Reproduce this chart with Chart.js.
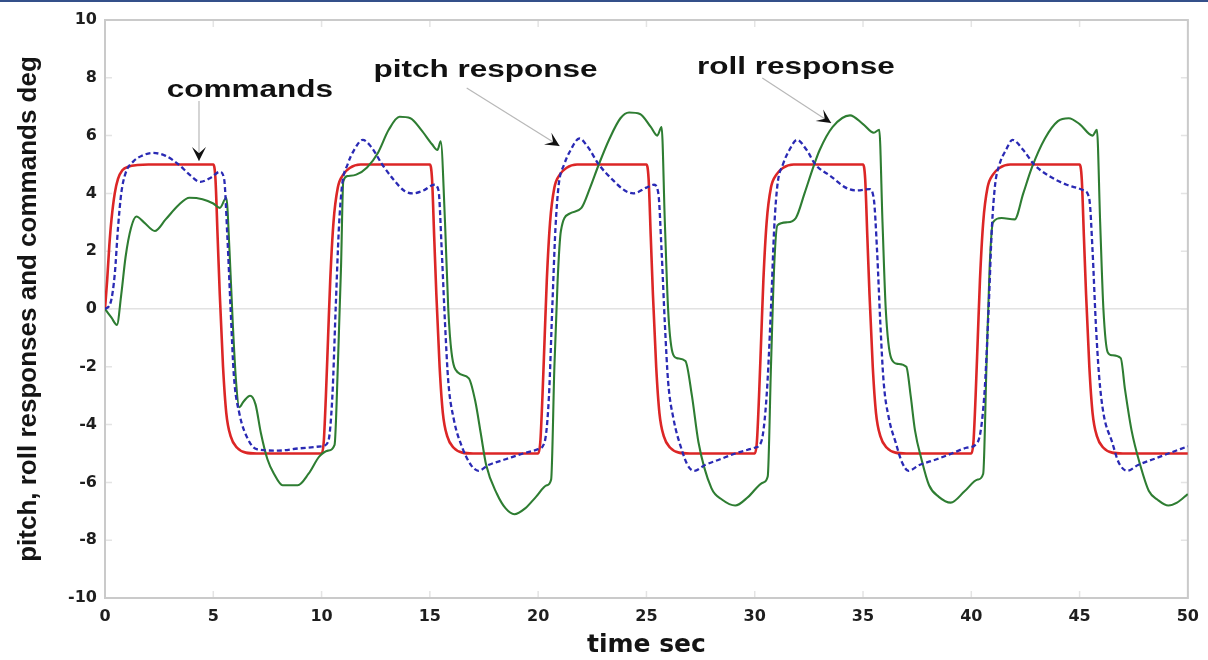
<!DOCTYPE html>
<html>
<head>
<meta charset="utf-8">
<script src="https://cdn.jsdelivr.net/npm/chart.js@4.4.1/dist/chart.umd.min.js"></script>
<style>
html,body{margin:0;padding:0;background:#fff;}
#wrap{width:1208px;height:660px;position:relative;}
</style>
</head>
<body>
<div id="wrap"><canvas id="c" width="1208" height="660"></canvas></div>
<script>
// ---------- data ----------
const seriesNames = ["commands", "pitch response", "roll response"];

const cmdT = [
  0, 0.1, 0.2, 0.3, 0.45, 0.6, 0.8, 1.1, 1.5, 2.0,
  5.0, 5.1, 5.2, 5.3, 5.45, 5.6, 5.8, 6.1, 6.5, 7.0,
  10.0, 10.1, 10.2, 10.3, 10.4, 10.55, 10.75, 11.0, 11.3, 11.8,
  15.0, 15.1, 15.2, 15.3, 15.45, 15.6, 15.8, 16.1, 16.5, 17.0,
  20.0, 20.1, 20.2, 20.3, 20.4, 20.55, 20.75, 21.0, 21.3, 21.8,
  25.0, 25.1, 25.2, 25.3, 25.45, 25.6, 25.8, 26.1, 26.5, 27.0,
  30.0, 30.1, 30.2, 30.3, 30.4, 30.55, 30.75, 31.0, 31.3, 31.8,
  35.0, 35.1, 35.2, 35.3, 35.45, 35.6, 35.8, 36.1, 36.5, 37.0,
  40.0, 40.1, 40.2, 40.3, 40.4, 40.55, 40.75, 41.0, 41.3, 41.8,
  45.0, 45.1, 45.2, 45.3, 45.45, 45.6, 45.8, 46.1, 46.5, 47.0,
  50.0
];
const cmdV = [
  0, 1.0, 2.2, 3.1, 4.0, 4.5, 4.8, 4.93, 4.98, 5,
  5, 4.5, 2.5, 0.5, -2, -3.6, -4.4, -4.8, -4.97, -5,
  -5, -4.6, -3, -1, 1, 3, 4.2, 4.65, 4.88, 5,
  5, 4.5, 2.5, 0.5, -2, -3.6, -4.4, -4.8, -4.97, -5,
  -5, -4.6, -3, -1, 1, 3, 4.2, 4.65, 4.88, 5,
  5, 4.5, 2.5, 0.5, -2, -3.6, -4.4, -4.8, -4.97, -5,
  -5, -4.6, -3, -1, 1, 3, 4.2, 4.65, 4.88, 5,
  5, 4.5, 2.5, 0.5, -2, -3.6, -4.4, -4.8, -4.97, -5,
  -5, -4.6, -3, -1, 1, 3, 4.2, 4.65, 4.88, 5,
  5, 4.5, 2.5, 0.5, -2, -3.6, -4.4, -4.8, -4.97, -5,
  -5
];

const pitchT = [
  0, 0.25, 0.45, 0.6, 0.75, 0.95, 1.3, 1.7, 2.2, 2.8, 3.4, 3.9, 4.4, 4.9, 5.3, 5.5, 5.65, 5.8, 5.95, 6.2, 6.6, 7.0, 8.0, 9.0,
  10.0, 10.3, 10.5, 10.65, 10.8, 10.95, 11.2, 11.5, 11.9, 12.3, 12.8, 13.3, 13.8, 14.2, 14.7, 15.2, 15.4, 15.55, 15.7, 15.85, 16.1, 16.5, 16.9, 17.25, 17.7, 18.5, 19.3,
  20.0, 20.3, 20.5, 20.65, 20.8, 20.95, 21.2, 21.5, 21.9, 22.3, 22.8, 23.4, 24.0, 24.4, 25.0, 25.35, 25.55, 25.7, 25.85, 26.0, 26.25, 26.6, 26.9, 27.2, 27.7, 28.4, 29.1,
  30.0, 30.3, 30.55, 30.75, 30.9, 31.05, 31.3, 31.6, 31.95, 32.4, 32.8, 33.5, 34.2, 34.7, 35.3, 35.5, 35.65, 35.8, 35.95, 36.2, 36.5, 36.8, 37.1, 37.6, 38.4, 39.1, 39.8,
  40.3, 40.6, 40.8, 40.95, 41.1, 41.3, 41.6, 41.9, 42.4, 42.9, 43.6, 44.4, 45.2, 45.45, 45.6, 45.75, 45.9, 46.1, 46.5, 46.8, 47.2, 47.7, 48.4, 49.1, 50.0
];
const pitchV = [
  0, 0.2, 1.2, 2.8, 4.0, 4.7, 5.1, 5.3, 5.4, 5.3, 5.0, 4.65, 4.4, 4.55, 4.75, 4.5, 2.5, 0, -2.3, -3.6, -4.5, -4.85, -4.9, -4.82,
  -4.75, -4.6, -3, 0, 2.8, 4.3, 5.0, 5.5, 5.85, 5.6, 5.0, 4.5, 4.1, 4.0, 4.1, 4.3, 4.1, 2, -0.5, -2.5, -3.8, -4.8, -5.4, -5.6, -5.4, -5.2, -5.0,
  -4.85, -4.6, -3, 0, 2.8, 4.3, 5.0, 5.5, 5.9, 5.6, 5.0, 4.5, 4.1, 4.0, 4.2, 4.3, 4.0, 2, -0.5, -2.5, -3.8, -4.8, -5.4, -5.6, -5.4, -5.2, -5.0,
  -4.8, -4.6, -3, 0, 2.8, 4.3, 5.0, 5.5, 5.85, 5.5, 5.0, 4.6, 4.2, 4.1, 4.15, 3.8, 2, -0.5, -2.5, -3.8, -4.6, -5.3, -5.6, -5.4, -5.2, -5.0, -4.8,
  -4.6, -3, 0, 2.8, 4.3, 5.0, 5.5, 5.85, 5.5, 5.0, 4.6, 4.3, 4.1, 3.8, 2, -0.5, -2.3, -3.6, -4.6, -5.3, -5.6, -5.4, -5.2, -5.0, -4.75
];

const rollT = [
  0, 0.3, 0.55, 0.75, 0.95, 1.2, 1.45, 1.8, 2.3, 2.8, 3.4, 3.9, 4.5, 5.0, 5.3, 5.6, 5.75, 5.9, 6.05, 6.2, 6.4, 6.7, 6.95, 7.2, 7.5, 7.8, 8.2, 8.9, 9.4, 9.9,
  10.3, 10.6, 10.75, 10.9, 11.0, 11.2, 11.6, 12.1, 12.6, 13.1, 13.6, 14.1, 14.6, 15.1, 15.35, 15.5, 15.7, 15.85, 16.0, 16.3, 16.8, 17.1, 17.35, 17.6, 18.1, 18.5, 18.9, 19.4, 19.9,
  20.4, 20.6, 20.75, 20.9, 21.05, 21.45, 22.0, 22.4, 22.8, 23.3, 23.8, 24.2, 24.7, 25.2, 25.5, 25.7, 25.85, 26.0, 26.2, 26.4, 26.8, 27.1, 27.4, 28.0, 28.5, 29.1, 29.7,
  30.4, 30.6, 30.75, 30.9, 31.05, 31.5, 31.9, 32.3, 32.7, 33.0, 33.6, 34.4, 35.0, 35.5, 35.75, 35.9, 36.05, 36.3, 36.6, 37.0, 37.2, 37.4, 37.7, 38.05, 38.5, 39.05, 39.7,
  40.3, 40.55, 40.7, 40.85, 41.0, 41.4, 42.0, 42.4, 42.8, 43.4, 44.0, 44.5, 45.0, 45.6, 45.8, 45.95, 46.1, 46.3, 46.5, 46.9, 47.1, 47.4, 47.8, 48.2, 48.6, 49.1, 49.5, 50.0
];
const rollV = [
  0, -0.3, -0.55, 0.5, 1.8, 2.8, 3.2, 3.0, 2.7, 3.1, 3.6, 3.85, 3.8, 3.65, 3.5, 3.85, 2, -0.5, -2.5, -3.4, -3.2, -3.0, -3.3, -4.3, -5.2, -5.7, -6.1, -6.1, -5.7, -5.1,
  -4.9, -4.7, -2, 1.5, 4.4, 4.6, 4.65, 4.9, 5.4, 6.2, 6.65, 6.6, 6.2, 5.7, 5.5, 5.8, 3, 0, -1.5, -2.2, -2.4, -3.2, -4.3, -5.4, -6.4, -6.9, -7.1, -6.9, -6.5,
  -6.1, -5.9, -2, 1.0, 2.7, 3.3, 3.5, 4.2, 5.0, 5.9, 6.6, 6.8, 6.75, 6.3, 6.0, 6.3, 3, 0, -1.5, -1.7, -1.8, -3.0, -4.6, -6.2, -6.6, -6.8, -6.5,
  -6.0, -5.8, -2, 1.5, 2.9, 3.0, 3.15, 4.0, 4.9, 5.5, 6.3, 6.7, 6.4, 6.1, 6.2, 3, 0, -1.7, -1.9, -2.0, -3.0, -4.2, -5.2, -6.1, -6.5, -6.7, -6.3,
  -5.9, -5.7, -2, 1.5, 3.0, 3.15, 3.1, 4.0, 4.9, 5.9, 6.5, 6.6, 6.4, 6.0, 6.2, 3, 0, -1.5, -1.6, -1.7, -2.8, -4.2, -5.4, -6.3, -6.6, -6.8, -6.7, -6.4
];

const xTickStep = 5;
const yTickStep = 2;

// ---------- helpers ----------
const toPts = (ts, vs) => ts.map((t, i) => ({x: t, y: vs[i]}));

function arrowHead(ctx, x0, y0, x1, y1, len, half) {
  const ang = Math.atan2(y1 - y0, x1 - x0);
  ctx.save();
  ctx.translate(x1, y1);
  ctx.rotate(ang);
  ctx.beginPath();
  ctx.moveTo(0, 0);
  ctx.lineTo(-len, -half);
  ctx.lineTo(-len * 0.55, 0);
  ctx.lineTo(-len, half);
  ctx.closePath();
  ctx.fill();
  ctx.restore();
}

const deco = {
  id: 'deco',
  beforeDraw(chart) {
    const c = chart.ctx;
    c.save();
    c.fillStyle = '#ffffff';
    c.fillRect(0, 0, chart.width, chart.height);
    c.fillStyle = '#34508a';
    c.fillRect(0, 0, chart.width, 2);
    c.restore();
  },
  beforeDatasetsDraw(chart) {
    const {ctx, chartArea: a, scales: {x, y}} = chart;
    ctx.save();
    ctx.strokeStyle = '#e4e4e4';
    ctx.lineWidth = 1.5;
    x.ticks.forEach((t, i) => {
      const px = x.getPixelForTick(i);
      ctx.beginPath();
      ctx.moveTo(px, a.bottom); ctx.lineTo(px, a.bottom - 7);
      ctx.moveTo(px, a.top); ctx.lineTo(px, a.top + 7);
      ctx.stroke();
    });
    y.ticks.forEach((t, i) => {
      const py = y.getPixelForTick(i);
      ctx.beginPath();
      ctx.moveTo(a.left, py); ctx.lineTo(a.left + 7, py);
      ctx.moveTo(a.right, py); ctx.lineTo(a.right - 7, py);
      ctx.stroke();
    });
    ctx.strokeStyle = '#cacaca';
    ctx.lineWidth = 2;
    ctx.strokeRect(a.left, a.top, a.right - a.left, a.bottom - a.top);
    ctx.restore();
  },
  afterDatasetsDraw(chart, args, opts) {
    const {ctx, scales: {x, y}} = chart;
    ctx.save();
    (opts.notes || []).forEach(n => {
      const x0 = x.getPixelForValue(n.from[0]), y0 = y.getPixelForValue(n.from[1]);
      const x1 = x.getPixelForValue(n.to[0]), y1 = y.getPixelForValue(n.to[1]);
      ctx.strokeStyle = '#b8b8b8';
      ctx.lineWidth = 1.2;
      ctx.beginPath(); ctx.moveTo(x0, y0); ctx.lineTo(x1, y1); ctx.stroke();
      ctx.fillStyle = '#111';
      arrowHead(ctx, x0, y0, x1, y1, 14, 7);
      const tx = x.getPixelForValue(n.at[0]), ty = y.getPixelForValue(n.at[1]);
      ctx.save();
      ctx.translate(tx, ty);
      ctx.scale(1.37, 1);
      ctx.font = 'bold 23px "Liberation Sans", Arial, sans-serif';
      ctx.textAlign = 'center';
      ctx.textBaseline = 'middle';
      ctx.fillStyle = '#111';
      ctx.fillText(n.text, 0, 0);
      ctx.restore();
    });
    ctx.restore();
  }
};

const tickFont = {family: '"DejaVu Sans", sans-serif', size: 16, weight: 'bold'};

new Chart(document.getElementById('c'), {
  type: 'line',
  data: {
    datasets: [
      {
        label: seriesNames[0],
        data: toPts(cmdT, cmdV),
        borderColor: '#dc2626',
        borderWidth: 2.6,
        pointRadius: 0,
        cubicInterpolationMode: 'monotone',
        order: 3
      },
      {
        label: seriesNames[2],
        data: toPts(rollT, rollV),
        borderColor: '#2e7d32',
        borderWidth: 2.1,
        pointRadius: 0,
        cubicInterpolationMode: 'monotone',
        order: 2
      },
      {
        label: seriesNames[1],
        data: toPts(pitchT, pitchV),
        borderColor: '#2a2ab4',
        borderWidth: 2.3,
        borderDash: [5, 3],
        pointRadius: 0,
        cubicInterpolationMode: 'monotone',
        order: 1
      }
    ]
  },
  options: {
    responsive: false,
    animation: false,
    parsing: true,
    layout: {padding: {top: 20, right: 19, left: 0, bottom: 0}},
    plugins: {
      legend: {display: false},
      tooltip: {enabled: false},
      deco: {
        notes: [
          {text: 'commands', at: [6.69, 7.54], from: [4.34, 7.2], to: [4.34, 5.12]},
          {text: 'pitch response', at: [17.57, 8.24], from: [16.7, 7.65], to: [20.99, 5.64]},
          {text: 'roll response', at: [31.9, 8.34], from: [30.35, 7.99], to: [33.53, 6.44]}
        ]
      }
    },
    scales: {
      x: {
        type: 'linear',
        min: 0, max: 50,
        afterFit(s) { s.height = 62; },
        ticks: {stepSize: xTickStep, color: '#1e1e1e', font: tickFont, padding: 9, maxRotation: 0},
        grid: {display: false, drawTicks: false},
        border: {display: false},
        title: {
          display: true, text: 'time sec', color: '#151515',
          font: {family: '"DejaVu Sans", sans-serif', size: 25, weight: 'bold'},
          padding: {top: 0, bottom: 0}
        }
      },
      y: {
        type: 'linear',
        min: -10, max: 10,
        afterFit(s) { s.width = 105; },
        ticks: {stepSize: yTickStep, color: '#1e1e1e', font: tickFont, padding: 8},
        grid: {
          drawTicks: false,
          lineWidth: 1.5,
          color: ctx => (ctx.tick && ctx.tick.value === 0) ? '#e2e2e2' : 'rgba(0,0,0,0)'
        },
        border: {display: false},
        title: {
          display: true, text: 'pitch, roll responses and commands deg', color: '#151515',
          font: {family: '"Liberation Sans", Arial, sans-serif', size: 26, weight: 'bold'},
          padding: {top: 13, bottom: 0}
        }
      }
    }
  },
  plugins: [deco]
});
</script>
</body>
</html>
